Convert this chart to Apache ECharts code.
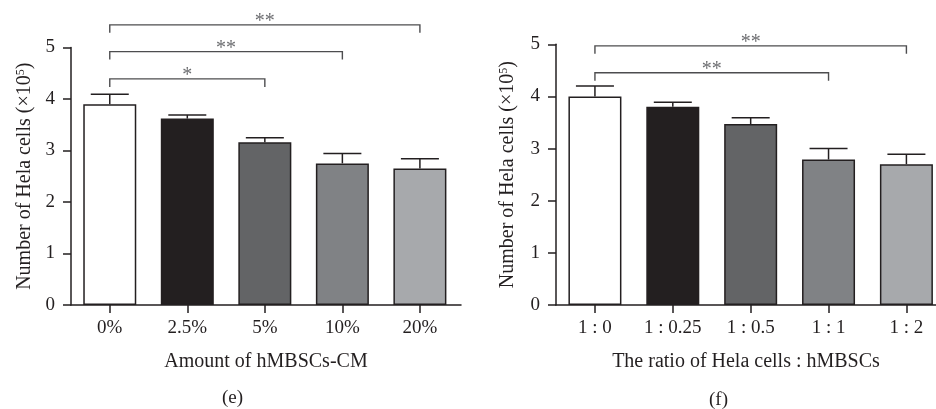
<!DOCTYPE html>
<html>
<head>
<meta charset="utf-8">
<script src="https://cdn.jsdelivr.net/npm/echarts@6/dist/echarts.min.js"></script>
<style>
html,body{margin:0;padding:0;background:#fff;}
#c{width:936px;height:409px;}
</style>
</head>
<body>
<div id="c"></div>
<script>
// ---- Data ----
const catsE = ['0%', '2.5%', '5%', '10%', '20%'];
const meanE = [3.90, 3.62, 3.16, 2.75, 2.65];
const errE  = [0.19, 0.07, 0.09, 0.19, 0.19];
const sigFromE  = [0, 0, 0];
const sigToE    = [2, 3, 4];
const sigLevelE = [4.39, 4.92, 5.44];
const sigLabelE = ['*', '**', '**'];

const catsF = ['1 : 0', '1 : 0.25', '1 : 0.5', '1 : 1', '1 : 2'];
const meanF = [4.00, 3.80, 3.47, 2.79, 2.70];
const errF  = [0.20, 0.09, 0.12, 0.21, 0.19];
const sigFromF  = [0, 0];
const sigToF    = [3, 4];
const sigLevelF = [4.455, 4.97];
const sigLabelF = ['**', '**'];

const yTicks = [0, 1, 2, 3, 4, 5];
const xAxisNameE = 'Amount of hMBSCs-CM';
const xAxisNameF = 'The ratio of Hela cells : hMBSCs';
const yAxisName = 'Number of Hela cells (×10{s|5})';
const panelE = '(e)';
const panelF = '(f)';

// ---- Styles ----
const barColors = ['#ffffff', '#231f20', '#636466', '#808285', '#a7a9ac'];
const ink = '#231f20';
const FONT = '"Liberation Serif", "Times New Roman", serif';

const chart = echarts.init(document.getElementById('c'), null, {renderer: 'canvas'});

function xAxisCfg(gridIndex, cats, min, max, name) {
  const idx = cats.map((_, i) => i);
  return {
    type: 'value', gridIndex, min, max, name,
    nameLocation: 'middle', nameGap: 47,
    nameTextStyle: {fontFamily: FONT, fontSize: 20, color: ink},
    axisLine: {show: true, onZero: false, lineStyle: {color: ink, width: 1.5}},
    axisTick: {show: true, length: 8, lineStyle: {color: ink, width: 1.5}, customValues: idx},
    axisLabel: {fontFamily: FONT, fontSize: 19, color: ink, margin: 14, customValues: idx,
      formatter: v => cats[Math.round(v)]},
    splitLine: {show: false}
  };
}
function yAxisCfg(gridIndex, nameGap) {
  return {
    type: 'value', gridIndex, min: 0, max: 5, interval: 1,
    name: yAxisName, nameLocation: 'middle', nameGap, nameRotate: 90,
    nameTextStyle: {fontFamily: FONT, fontSize: 20, color: ink,
      rich: {s: {fontFamily: FONT, fontSize: 12, color: ink, verticalAlign: 'top', lineHeight: 20}}},
    axisLine: {show: true, onZero: false, lineStyle: {color: ink, width: 1.5}},
    axisTick: {show: true, length: 8, lineStyle: {color: ink, width: 1.5}},
    axisLabel: {fontFamily: FONT, fontSize: 19, color: ink, margin: 16, formatter: v => yTicks.includes(v) ? String(v) : ''},
    splitLine: {show: false}
  };
}

function barSeries(axisIdx, means) {
  return {
    type: 'bar', xAxisIndex: axisIdx, yAxisIndex: axisIdx, barWidth: 53,
    data: means.map((m, i) => ({value: [i, m], itemStyle: {color: barColors[i], borderColor: ink, borderWidth: 1.5}})),
    z: 2
  };
}
function errSeries(axisIdx, means, errs) {
  return {
    type: 'custom', xAxisIndex: axisIdx, yAxisIndex: axisIdx, z: 1,
    data: means.map((m, i) => [i, m, errs[i]]),
    renderItem: (params, api) => {
      const x = api.value(0), m = api.value(1), e = api.value(2);
      const base = api.coord([x, m]);
      const top = api.coord([x, m + e]);
      const half = 19;
      return {type: 'group', children: [
        {type: 'line', shape: {x1: top[0], y1: base[1], x2: top[0], y2: top[1]}, style: {stroke: ink, lineWidth: 1.5}},
        {type: 'line', shape: {x1: top[0] - half, y1: top[1], x2: top[0] + half, y2: top[1]}, style: {stroke: ink, lineWidth: 1.5}}
      ]};
    }
  };
}
function sigSeries(axisIdx, froms, tos, levels, labels) {
  return {
    type: 'custom', xAxisIndex: axisIdx, yAxisIndex: axisIdx, z: 3, clip: false,
    data: froms.map((f, i) => [f, tos[i], levels[i], i]),
    renderItem: (params, api) => {
      const f = api.value(0), t = api.value(1), lv = api.value(2), k = api.value(3);
      const a = api.coord([f, lv]);
      const b = api.coord([t, lv]);
      const drop = 8;
      const col = '#4d4d4f';
      return {type: 'group', children: [
        {type: 'polyline', shape: {points: [[a[0], a[1] + drop], [a[0], a[1]], [b[0], b[1]], [b[0], b[1] + drop]]},
          style: {stroke: col, lineWidth: 1.4, fill: null}},
        {type: 'text', x: (a[0] + b[0]) / 2, y: a[1] + 7,
          style: {text: labels[k], fontFamily: FONT, fontSize: 20, fill: '#6d6e71', align: 'center', verticalAlign: 'bottom'}}
      ]};
    }
  };
}

chart.setOption({
  animation: false,
  backgroundColor: '#ffffff',
  grid: [
    {left: 71, right: 475, top: 47.5, bottom: 104, containLabel: false},
    {left: 556, right: 0, top: 44.3, bottom: 104, containLabel: false}
  ],
  xAxis: [
    xAxisCfg(0, catsE, -0.5, 4.53, xAxisNameE),
    xAxisCfg(1, catsF, -0.5, 4.38, xAxisNameF)
  ],
  yAxis: [yAxisCfg(0, 36), yAxisCfg(1, 38)],
  graphic: [
    {type: 'text', left: 222, top: 389, style: {text: panelE, fontFamily: FONT, fontSize: 19, fill: ink}},
    {type: 'text', left: 709, top: 391, style: {text: panelF, fontFamily: FONT, fontSize: 19, fill: ink}}
  ],
  series: [
    errSeries(0, meanE, errE), barSeries(0, meanE), sigSeries(0, sigFromE, sigToE, sigLevelE, sigLabelE),
    errSeries(1, meanF, errF), barSeries(1, meanF), sigSeries(1, sigFromF, sigToF, sigLevelF, sigLabelF)
  ]
});
</script>
</body>
</html>
